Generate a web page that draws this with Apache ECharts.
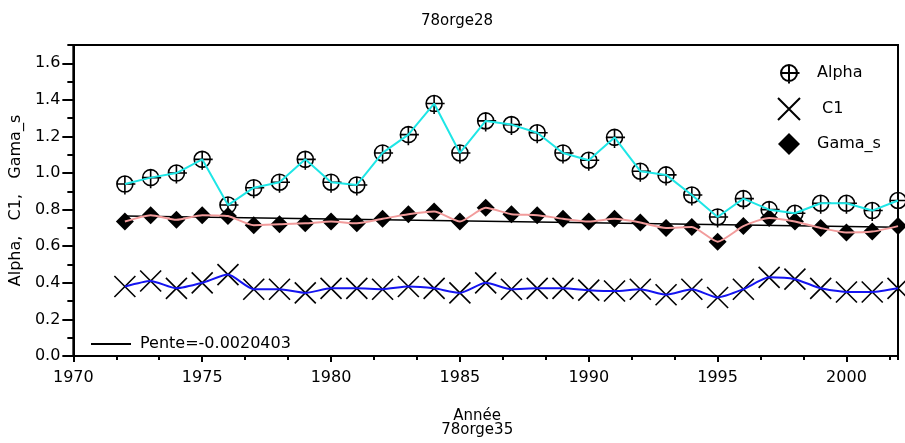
<!DOCTYPE html>
<html>
<head>
<meta charset="utf-8">
<script src="https://cdn.jsdelivr.net/npm/echarts@6/dist/echarts.min.js"></script>
<style>
  html, body { margin: 0; padding: 0; background: #fff; }
  #chart { width: 905px; height: 443px; }
</style>
</head>
<body>
<div id="chart"></div>
<script>
// années et séries
var years = [1972, 1973, 1974, 1975, 1976, 1977, 1978, 1979, 1980, 1981,
  1982, 1983, 1984, 1985, 1986, 1987, 1988, 1989, 1990, 1991,
  1992, 1993, 1994, 1995, 1996, 1997, 1998, 1999, 2000, 2001, 2002];
var alpha = [0.94, 0.975, 1.00, 1.075, 0.825, 0.92, 0.95, 1.075, 0.95, 0.935,
  1.11, 1.21, 1.38, 1.11, 1.285, 1.265, 1.22, 1.11, 1.07, 1.195,
  1.01, 0.99, 0.88, 0.76, 0.86, 0.80, 0.78, 0.835, 0.835, 0.795, 0.85];
var c1 = [0.38, 0.41, 0.37, 0.40, 0.445, 0.365, 0.365, 0.345, 0.37, 0.37,
  0.365, 0.38, 0.37, 0.345, 0.40, 0.365, 0.37, 0.37, 0.36, 0.355,
  0.365, 0.335, 0.365, 0.32, 0.365, 0.43, 0.42, 0.37, 0.35, 0.35, 0.37];
var gamaS = [0.735, 0.77, 0.745, 0.77, 0.765, 0.715, 0.72, 0.725, 0.735, 0.725,
  0.75, 0.775, 0.79, 0.735, 0.81, 0.775, 0.77, 0.75, 0.735, 0.75,
  0.73, 0.70, 0.705, 0.625, 0.71, 0.755, 0.735, 0.70, 0.675, 0.68, 0.71];
var penteYears = [1972, 2002];
var penteValues = [0.765, 0.704];
var penteLabel = 'Pente=-0.0020403';

function pairs(xs, ys) {
  var out = [];
  for (var i = 0; i < xs.length; i++) out.push([xs[i], ys[i]]);
  return out;
}

var font = 'DejaVu Sans';
var circlePlus = 'path://M-11,-11 M11,11 M8,0 A8,8 0 1,1 -8,0 A8,8 0 1,1 8,0 Z M-8,0 L10.5,0 M0,-8 L0,10.5';
var cross = 'path://M-10,-10 L10,10 M-10,10 L10,-10';

var chart = echarts.init(document.getElementById('chart'));
chart.setOption({
  animation: false,
  backgroundColor: '#fff',
  textStyle: { fontFamily: font, color: '#000' },
  title: {
    text: '78orge28',
    left: 452, top: 9, textAlign: 'center',
    textStyle: { fontFamily: font, fontSize: 15, fontWeight: 'normal', color: '#000' }
  },
  grid: {
    left: 73, right: 7, top: 45, bottom: 87,
    show: true, borderColor: '#000', borderWidth: 2, backgroundColor: 'transparent'
  },
  legend: [
    {
      orient: 'vertical', left: 772, top: 56,
      itemWidth: 22, itemHeight: 22, itemGap: 12,
      selectedMode: false,
      data: ['Alpha', ' C1', 'Gama_s'],
      textStyle: { fontFamily: font, fontSize: 16, color: '#000', padding: [0, 0, 0, 12] }
    },
    {
      orient: 'vertical', left: 86, top: 331,
      itemWidth: 40, itemHeight: 2,
      selectedMode: false,
      data: [{ name: penteLabel, icon: 'rect' }],
      itemStyle: { color: '#000' },
      textStyle: { fontFamily: font, fontSize: 16, color: '#000', padding: [0, 0, 0, 4] }
    }
  ],
  xAxis: [
    {
      type: 'value', position: 'bottom',
      min: 1970, max: 2002, interval: 5,
      name: 'Année\n78orge35', nameLocation: 'middle', nameGap: 53,
      nameTextStyle: { fontFamily: font, fontSize: 15, color: '#000', lineHeight: 14, padding: [0, 17, 0, 0] },
      axisLine: { lineStyle: { color: '#000', width: 2 } },
      axisTick: { length: 6, lineStyle: { color: '#000', width: 2 } },
      axisLabel: {
        margin: 14, fontFamily: font, fontSize: 16, color: '#000', showMaxLabel: false,
        formatter: function (v) { return v % 5 === 0 ? String(v) : ''; }
      },
      splitLine: { show: false }
    },
    {
      type: 'value', position: 'bottom',
      min: 1970, max: 2002, interval: 5 / 3,
      axisLine: { show: false },
      axisTick: { length: 4, lineStyle: { color: '#000', width: 2 } },
      axisLabel: { show: false },
      splitLine: { show: false }
    }
  ],
  yAxis: [
    {
      type: 'value', position: 'left',
      min: 0, max: 1.7, interval: 0.2,
      name: 'Alpha,   C1,   Gama_s', nameLocation: 'middle', nameRotate: 90, nameGap: 47,
      nameTextStyle: { fontFamily: font, fontSize: 16, color: '#000' },
      axisLine: { lineStyle: { color: '#000', width: 2 } },
      axisTick: { length: 11, lineStyle: { color: '#000', width: 2 } },
      axisLabel: {
        margin: 13, fontFamily: font, fontSize: 16, color: '#000', showMaxLabel: false,
        formatter: function (v) { return v.toFixed(1); }
      },
      splitLine: { show: false }
    },
    {
      type: 'value', position: 'left',
      min: 0, max: 1.7, interval: 0.1,
      axisLine: { show: false },
      axisTick: { length: 6, lineStyle: { color: '#000', width: 2 } },
      axisLabel: { show: false },
      splitLine: { show: false }
    }
  ],
  series: [
    {
      name: 'Alpha', type: 'scatter', data: pairs(years, alpha),
      symbol: circlePlus, symbolSize: 22,
      itemStyle: { color: 'rgba(0,0,0,0)', borderColor: '#000', borderWidth: 1.6, opacity: 1 },
      emphasis: { disabled: true }
    },
    {
      name: ' C1', type: 'scatter', data: pairs(years, c1),
      symbol: cross, symbolSize: 21,
      itemStyle: { color: 'rgba(0,0,0,0)', borderColor: '#000', borderWidth: 1.6, opacity: 1 },
      emphasis: { disabled: true }
    },
    {
      name: 'Gama_s', type: 'scatter', data: pairs(years, gamaS),
      symbol: 'diamond', symbolSize: [18, 18],
      itemStyle: { color: '#000', opacity: 1 },
      emphasis: { disabled: true }
    },
    {
      name: penteLabel, type: 'line', data: pairs(penteYears, penteValues),
      symbol: 'none', lineStyle: { color: '#000', width: 1.5 }, itemStyle: { color: '#000' },
      emphasis: { disabled: true }
    },
    {
      name: 'alphaLine', type: 'line', data: pairs(years, alpha),
      symbol: 'none', lineStyle: { color: '#1ee6e6', width: 2 },
      emphasis: { disabled: true }
    },
    {
      name: 'c1Line', type: 'line', data: pairs(years, c1), smooth: 0.2,
      symbol: 'none', lineStyle: { color: '#1414f0', width: 2 },
      emphasis: { disabled: true }
    },
    {
      name: 'gamaLine', type: 'line', data: pairs(years, gamaS), smooth: 0.2,
      symbol: 'none', lineStyle: { color: '#f29c9c', width: 2 },
      emphasis: { disabled: true }
    }
  ]
});
</script>
</body>
</html>
